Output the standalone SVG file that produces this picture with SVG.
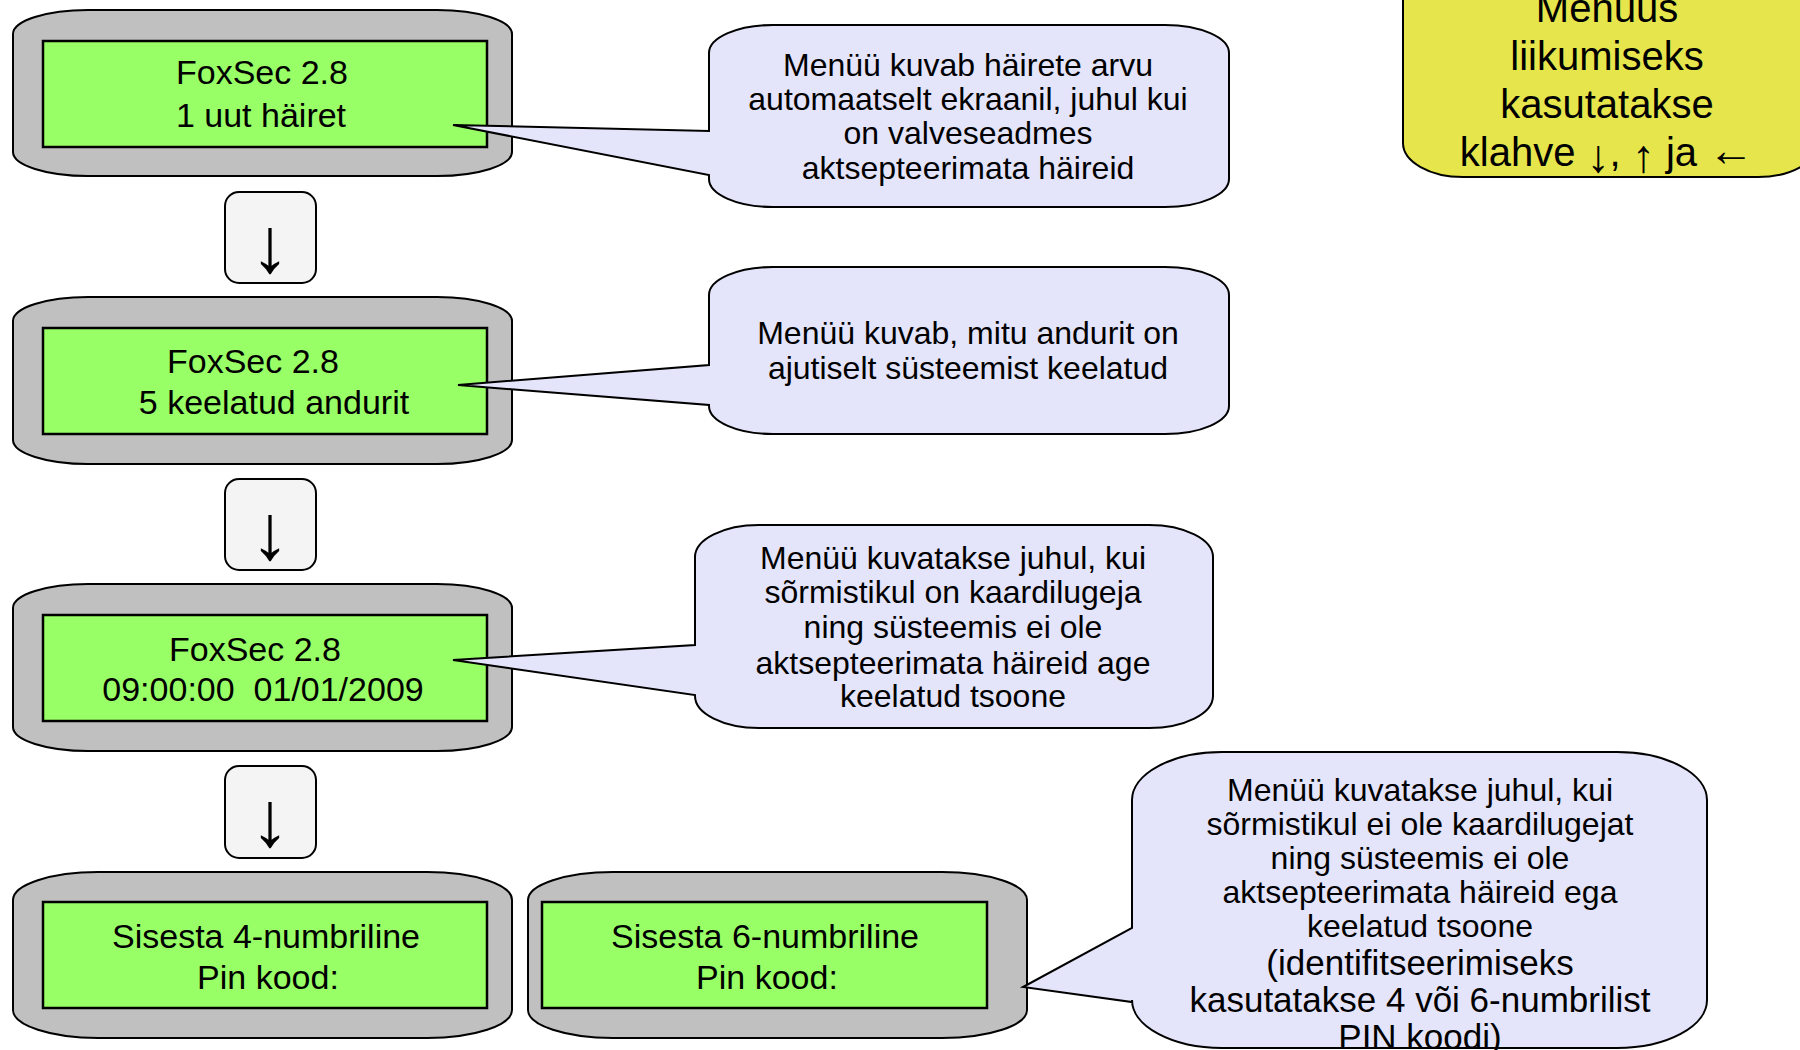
<svg xmlns="http://www.w3.org/2000/svg" width="1800" height="1050" viewBox="0 0 1800 1050">
<style>
.bez{fill:#c0c0c0;stroke:#000;stroke-width:2}
.lcd{fill:#99ff66;stroke:#000;stroke-width:2.5}
.key{fill:#f4f4f4;stroke:#000;stroke-width:2}
.call{fill:#e4e4fa;stroke:#000;stroke-width:2;stroke-linejoin:miter}
.note{fill:#e6e64c;stroke:#000;stroke-width:2}
text{font-family:"Liberation Sans",Arial,sans-serif;fill:#000;text-anchor:middle}
.t34{font-size:34px}
.t35{font-size:35px}
.t32{font-size:32px}
.t40{font-size:40px}
.arr{font-size:78px}
.sa{font-size:46px}
</style>
<rect width="1800" height="1050" fill="#fff"/>

<g id="note">
<rect class="note" x="1403" y="-80" width="415" height="257" rx="60" ry="34"/>
<text class="t40" x="1607" y="22">Menüus</text>
<text class="t40" x="1607" y="70">liikumiseks</text>
<text class="t40" x="1607" y="118">kasutatakse</text>
<text class="t40" x="1607" y="166">klahve <tspan class="sa" dy="6">↓</tspan><tspan dy="-6">, </tspan><tspan class="sa" dy="6">↑</tspan><tspan dy="-6"> ja </tspan><tspan class="sa">←</tspan></text>
</g>

<g id="node1">
<rect class="bez" x="13" y="10" width="499" height="166" rx="75" ry="24"/>
<rect class="lcd" x="43" y="41" width="444" height="106"/>
<text class="t34" x="262" y="84">FoxSec 2.8</text>
<text class="t34" x="261" y="127">1 uut häiret</text>
</g>

<g id="key1">
<rect class="key" x="225" y="192" width="91" height="91" rx="14"/>
<text class="arr" x="270" y="272">↓</text>
</g>

<g id="node2">
<rect class="bez" x="13" y="297" width="499" height="167" rx="75" ry="24"/>
<rect class="lcd" x="43" y="328" width="444" height="106"/>
<text class="t34" x="253" y="373">FoxSec 2.8</text>
<text class="t34" x="274" y="414">5 keelatud andurit</text>
</g>

<g id="key2">
<rect class="key" x="225" y="479" width="91" height="91" rx="14"/>
<text class="arr" x="270" y="559">↓</text>
</g>

<g id="node3">
<rect class="bez" x="13" y="584" width="499" height="167" rx="75" ry="24"/>
<rect class="lcd" x="43" y="615" width="444" height="106"/>
<text class="t34" x="255" y="661">FoxSec 2.8</text>
<text class="t34" x="263" y="701" xml:space="preserve">09:00:00  01/01/2009</text>
</g>

<g id="key3">
<rect class="key" x="225" y="766" width="91" height="92" rx="14"/>
<text class="arr" x="270" y="846">↓</text>
</g>

<g id="node4">
<rect class="bez" x="13" y="872" width="499" height="166" rx="85" ry="28"/>
<rect class="lcd" x="43" y="902" width="444" height="106"/>
<text class="t34" x="266" y="948">Sisesta 4-numbriline</text>
<text class="t34" x="268" y="989">Pin kood:</text>
</g>

<g id="node5">
<rect class="bez" x="528" y="872" width="499" height="166" rx="85" ry="28"/>
<rect class="lcd" x="542" y="902" width="445" height="106"/>
<text class="t34" x="765" y="948">Sisesta 6-numbriline</text>
<text class="t34" x="767" y="989">Pin kood:</text>
</g>

<g id="connectors">
<g id="callout1">
<path class="call" d="M773,25 H1165 A64 28 0 0 1 1229,53 V179 A64 28 0 0 1 1165,207 H773 A64 28 0 0 1 709,179 V175 L453,125 L709,131 V53 A64 28 0 0 1 773,25 Z"/>
<text class="t32" x="968" y="76">Menüü kuvab häirete arvu</text>
<text class="t32" x="968" y="110">automaatselt ekraanil, juhul kui</text>
<text class="t32" x="968" y="144">on valveseadmes</text>
<text class="t32" x="968" y="179">aktsepteerimata häireid</text>
</g>
<g id="callout2">
<path class="call" d="M773,267 H1165 A64 28 0 0 1 1229,295 V406 A64 28 0 0 1 1165,434 H773 A64 28 0 0 1 709,406 V405 L458,385 L709,365 V295 A64 28 0 0 1 773,267 Z"/>
<text class="t32" x="968" y="344">Menüü kuvab, mitu andurit on</text>
<text class="t32" x="968" y="379">ajutiselt süsteemist keelatud</text>
</g>
<g id="callout3">
<path class="call" d="M759,525 H1149 A64 32 0 0 1 1213,557 V696 A64 32 0 0 1 1149,728 H759 A64 32 0 0 1 695,696 V695 L453,660 L695,645 V557 A64 32 0 0 1 759,525 Z"/>
<text class="t32" x="953" y="569">Menüü kuvatakse juhul, kui</text>
<text class="t32" x="953" y="603">sõrmistikul on kaardilugeja</text>
<text class="t32" x="953" y="638">ning süsteemis ei ole</text>
<text class="t32" x="953" y="674">aktsepteerimata häireid age</text>
<text class="t32" x="953" y="707">keelatud tsoone</text>
</g>
<g id="callout4">
<path class="call" d="M1222,752 H1617 A90 48 0 0 1 1707,800 V1000 A90 48 0 0 1 1617,1048 H1222 A90 48 0 0 1 1132,1000 V1002 L1023,987 L1132,928 V800 A90 48 0 0 1 1222,752 Z"/>
<text class="t32" x="1420" y="801">Menüü kuvatakse juhul, kui</text>
<text class="t32" x="1420" y="835">sõrmistikul ei ole kaardilugejat</text>
<text class="t32" x="1420" y="869">ning süsteemis ei ole</text>
<text class="t32" x="1420" y="903">aktsepteerimata häireid ega</text>
<text class="t32" x="1420" y="937">keelatud tsoone</text>
<text class="t35" x="1420" y="975">(identifitseerimiseks</text>
<text class="t35" x="1420" y="1012">kasutatakse 4 või 6-numbrilist</text>
<text class="t35" x="1420" y="1049">PIN koodi)</text>
</g>
</g>
</svg>
